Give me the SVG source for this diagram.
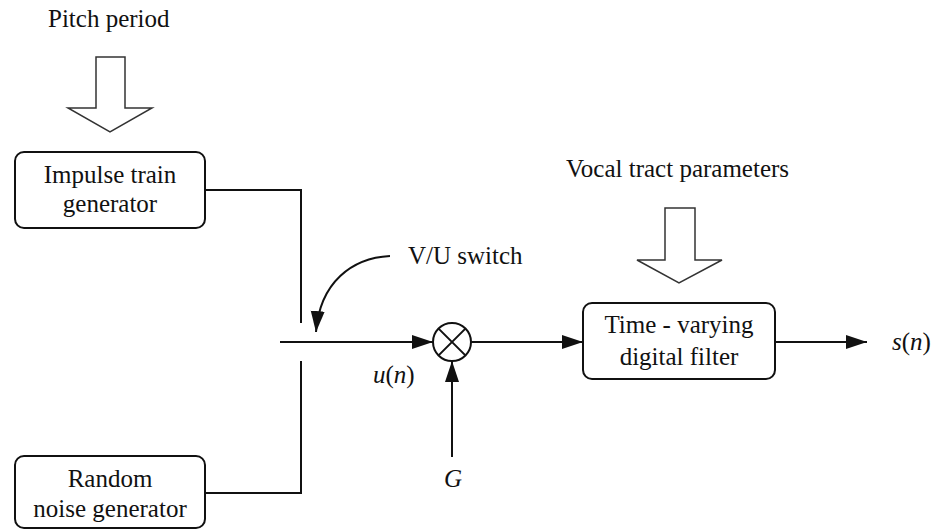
<svg xmlns="http://www.w3.org/2000/svg" width="934" height="530" viewBox="0 0 934 530">
<defs>
<style>
.t{font-family:"Liberation Serif","Times New Roman",serif;font-size:25px;fill:#111;}
.i{font-style:italic;}
.box{fill:#fff;stroke:#111;stroke-width:2;}
.ln{fill:none;stroke:#111;stroke-width:2;}
.big{fill:#fff;stroke:#333;stroke-width:1.5;}
</style>
<marker id="ah" markerUnits="userSpaceOnUse" markerWidth="22" markerHeight="16" refX="21" refY="7" orient="auto">
<path d="M0,0 L21,7 L0,14 Z" fill="#111"/>
</marker>
</defs>
<rect width="934" height="530" fill="#fff"/>

<g id="pitch-input">
<text class="t" x="48" y="27">Pitch period</text>
<path class="big" d="M96,57 L125,57 L125,108 L152,108 L110,132 L68,108 L96,108 Z"/>
</g>

<g id="vocal-input">
<text class="t" x="566" y="177">Vocal tract parameters</text>
<path class="big" d="M665,208 L695,208 L695,260 L722,260 L679,283 L637,260 L665,260 Z"/>
</g>

<g id="impulse">
<rect class="box" x="15" y="152" width="190" height="76" rx="9"/>
<text class="t" x="110" y="183" text-anchor="middle">Impulse train</text>
<text class="t" x="110" y="212" text-anchor="middle">generator</text>
</g>

<g id="noise">
<rect class="box" x="15" y="456" width="190" height="72" rx="9"/>
<text class="t" x="110" y="487" text-anchor="middle">Random</text>
<text class="t" x="110" y="517" text-anchor="middle">noise generator</text>
</g>

<g id="multiplier">
<circle class="ln" cx="452" cy="342" r="19"/>
<path class="ln" stroke-width="1.5" d="M438.6,328.6 L465.4,355.4 M465.4,328.6 L438.6,355.4"/>
</g>

<g id="filter">
<rect class="box" x="583" y="303" width="192" height="76" rx="9"/>
<text class="t" x="679" y="333" text-anchor="middle">Time - varying</text>
<text class="t" x="679" y="365" text-anchor="middle">digital filter</text>
</g>

<g id="connectors">
<path class="ln" d="M205,190 L301,190 L301,323"/>
<path class="ln" d="M205,493 L301,493 L301,361"/>
<path class="ln" d="M280,342 L433,342" marker-end="url(#ah)"/>
<path class="ln" d="M390,256 C352,258 320,282 316,332" marker-end="url(#ah)"/>
<path class="ln" d="M452,457 L452,361" marker-end="url(#ah)"/>
<path class="ln" d="M471,342 L583,342" marker-end="url(#ah)"/>
<path class="ln" d="M775,342 L867,342" marker-end="url(#ah)"/>
</g>

<g id="labels">
<text class="t" x="408" y="264">V/U switch</text>
<text class="t" x="373" y="383"><tspan class="i">u</tspan>(<tspan class="i">n</tspan>)</text>
<text class="t i" x="444" y="487">G</text>
<text class="t" x="892" y="350"><tspan class="i">s</tspan>(<tspan class="i">n</tspan>)</text>
</g>
</svg>
